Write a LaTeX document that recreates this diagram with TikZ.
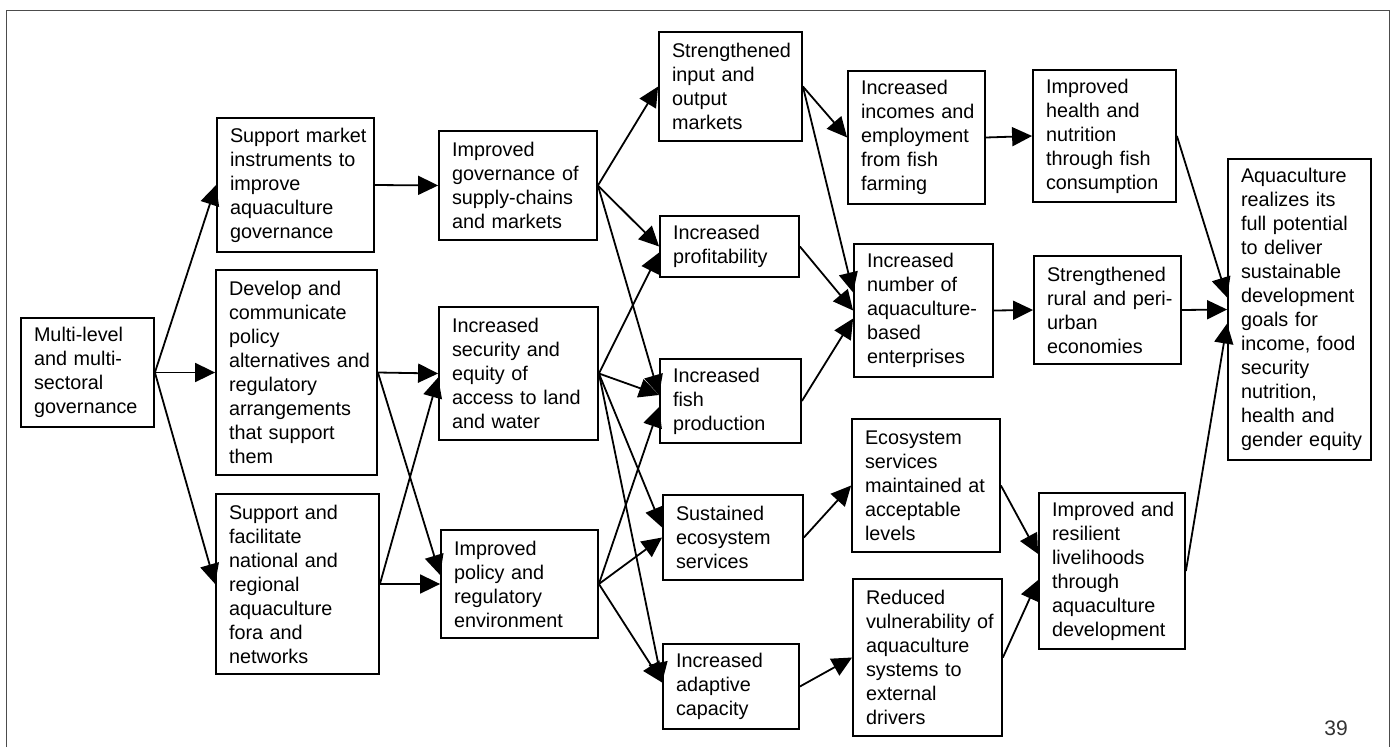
\documentclass[tikz,border=0pt]{standalone}
\usepackage{fontspec}
\setmainfont{Liberation Sans}
\usetikzlibrary{arrows.meta,calc}
\hyphenpenalty=10000
\exhyphenpenalty=10000
\newcommand\boxfont{\fontsize{19.8pt}{24pt}\selectfont}
\tikzset{
  bx/.style={draw, line width=1.8pt, inner xsep=13pt, inner ysep=0pt, align=left, font=\boxfont, anchor=center},
  ar/.style={line width=1.8pt, -{Triangle[length=20pt,width=19pt]}},
  frame/.style={draw=black!70, line width=1.2pt}
}
\begin{document}
\begin{tikzpicture}[x=1pt,y=-1pt]
\useasboundingbox (0,0) rectangle (1392,747);
\draw[frame] (6.5,747) -- (6.5,10.5) -- (1389.5,10.5) -- (1389.5,747);

% column A
\node[bx, minimum width=133pt, minimum height=109pt, text width=107pt] (A) at (87.5,372.5)
  {Multi-level\\and~multi-\\sectoral\\governance};
% column B
\node[bx, minimum width=157pt, minimum height=134pt, text width=131pt] (B1) at (295.5,185)
  {Support~market\\instruments~to\\improve\\aquaculture\\governance};
\node[bx, minimum width=161pt, minimum height=205pt, text width=135pt] (B2) at (296.5,372.5)
  {Develop~and\\communicate\\policy\\alternatives~and\\regulatory\\arrangements\\that~support\\them};
\node[bx, minimum width=163pt, minimum height=180pt, text width=137pt] (B3) at (297.5,584)
  {Support~and\\facilitate\\national~and\\regional\\aquaculture\\fora~and\\networks};
% column C
\node[bx, minimum width=158pt, minimum height=109pt, text width=132pt] (C1) at (518,185.5)
  {Improved\\governance~of\\supply-chains\\and~markets};
\node[bx, minimum width=159pt, minimum height=133pt, text width=133pt] (C2) at (518.5,373.5)
  {Increased\\security~and\\equity~of\\access~to~land\\and~water};
\node[bx, minimum width=157pt, minimum height=108pt, text width=131pt] (C3) at (519.5,584)
  {Improved\\policy~and\\regulatory\\environment};
% column D
\node[bx, minimum width=143pt, minimum height=109pt, text width=117pt] (D1) at (730.5,86.5)
  {Strengthened\\input~and\\output\\markets};
\node[bx, minimum width=139pt, minimum height=61pt, text width=113pt] (D2) at (729.5,246.5)
  {Increased\\profitability};
\node[bx, minimum width=141pt, minimum height=84pt, text width=115pt] (D3) at (730.5,401)
  {Increased\\fish\\production};
\node[bx, minimum width=140pt, minimum height=85pt, text width=114pt] (D4) at (733,537.5)
  {Sustained\\ecosystem\\services};
\node[bx, minimum width=136pt, minimum height=85pt, text width=110pt] (D5) at (731,686.5)
  {Increased\\adaptive\\capacity};
% column E
\node[bx, minimum width=137pt, minimum height=133pt, text width=111pt] (E1) at (916.5,137.5)
  {Increased\\incomes~and\\employment\\from~fish\\farming};
\node[bx, minimum width=139pt, minimum height=133pt, text width=113pt] (E2) at (923.5,310.5)
  {Increased\\number~of\\aquaculture-\\based\\enterprises};
\node[bx, minimum width=148pt, minimum height=133pt, text width=122pt] (E3) at (926,485.5)
  {Ecosystem\\services\\maintained~at\\acceptable\\levels};
\node[bx, minimum width=149pt, minimum height=157pt, text width=123pt] (E4) at (927.5,657.5)
  {Reduced\\vulnerability~of\\aquaculture\\systems~to\\external\\drivers};
% column F
\node[bx, minimum width=143pt, minimum height=132pt, text width=117pt] (F1) at (1104.5,136)
  {Improved\\health~and\\nutrition\\through~fish\\consumption};
\node[bx, minimum width=147pt, minimum height=108pt, text width=121pt] (F2) at (1107.5,310)
  {Strengthened\\rural~and~peri-\\urban\\economies};
\node[bx, minimum width=146pt, minimum height=156pt, text width=120pt] (F3) at (1112,571)
  {Improved~and\\resilient\\livelihoods\\through\\aquaculture\\development};
% goal
\node[bx, minimum width=143pt, minimum height=301pt, text width=117pt] (G) at (1299.5,309.5)
  {Aquaculture\\realizes~its\\full~potential\\to~deliver\\sustainable\\development\\goals~for\\income,~food\\security\\nutrition,\\health~and\\gender~equity};

\node[font=\fontsize{21pt}{24pt}\selectfont, text=black!80, inner sep=0pt] (pg) at (1336,728) {39};

% connectors
\draw[ar] (A.east) -- (B1.west);
\draw[ar] (A.east) -- (B2.west);
\draw[ar] (A.east) -- (B3.west);
\draw[ar] (B1.east) -- (C1.west);
\draw[ar] (B2.east) -- (C2.west);
\draw[ar] (B2.east) -- ($(C3.west)+(0,-9)$);
\draw[ar] (B3.east) -- ($(C2.west)+(0,4)$);
\draw[ar] (B3.east) -- (C3.west);
\draw[ar] (C1.east) -- (D1.west);
\draw[ar] (C1.east) -- (D2.west);
\draw[ar] (C1.east) -- ($(D3.west)+(0,-6)$);
\draw[ar] (C2.east) -- ($(D2.west)+(0,6)$);
\draw[ar] (C2.east) -- ($(D3.west)+(0,-6)$);
\draw[ar] (C2.east) -- ($(D4.west)+(0,-10)$);
\draw[ar] (C2.east) -- ($(D5.west)+(0,-4)$);
\draw[ar] (C3.east) -- ($(D3.west)+(0,6)$);
\draw[ar] (C3.east) -- (D4.west);
\draw[ar] (C3.east) -- ($(D5.west)+(0,-4)$);
\draw[ar] (D1.east) -- (E1.west);
\draw[ar] (D1.east) -- ($(E2.west)+(0,-18)$);
\draw[ar] (D2.east) -- (E2.west);
\draw[ar] (D3.east) -- ($(E2.west)+(0,8)$);
\draw[ar] (D4.east) -- (E3.west);
\draw[ar] (D5.east) -- (E4.west);
\draw[ar] (E1.east) -- (F1.west);
\draw[ar] (E2.east) -- (F2.west);
\draw[ar] (E3.east) -- ($(F3.west)+(0,-17)$);
\draw[ar] (E4.east) -- ($(F3.west)+(0,9)$);
\draw[ar] (F1.east) -- ($(G.west)+(0,-12)$);
\draw[ar] (F2.east) -- (G.west);
\draw[ar] (F3.east) -- ($(G.west)+(0,14)$);
\end{tikzpicture}
\end{document}
